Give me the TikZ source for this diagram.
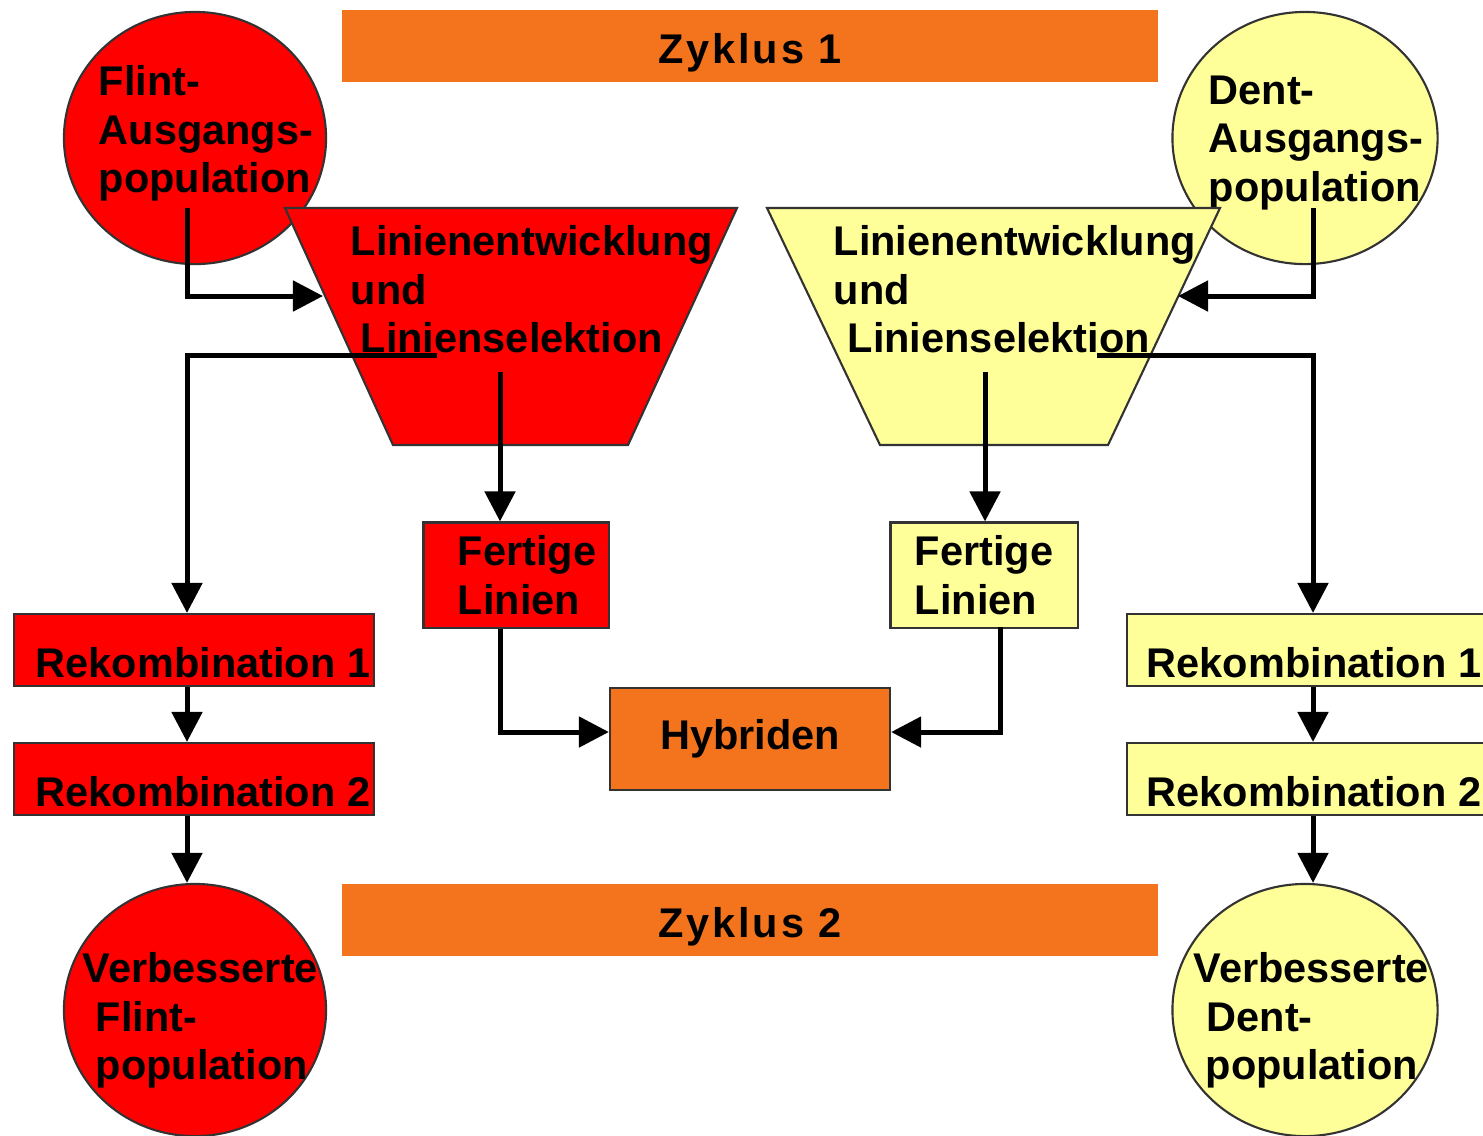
\documentclass[tikz,border=0pt]{standalone}
\usepackage{fontspec}
\setmainfont{Liberation Sans}
\usetikzlibrary{shapes.geometric,arrows.meta,positioning}
\definecolor{FlintRed}{RGB}{255,0,0}
\definecolor{DentYellow}{RGB}{255,255,153}
\definecolor{CycOrange}{RGB}{243,116,28}

\begin{document}
\begin{tikzpicture}[x=0.01cm,y=-0.01cm,
  font=\fontsize{11.8pt}{13.8pt}\selectfont\bfseries,
  pop/.style={ellipse,draw=black!80,line width=0.6pt,minimum width=2.62cm,minimum height=2.52cm,inner sep=0pt},
  ptxt/.style={align=left,inner sep=0pt,anchor=north west},
  funnel/.style={draw=black!80,line width=0.6pt},
  rekbox/.style={draw=black!80,line width=0.6pt,minimum width=3.6cm,minimum height=0.72cm,inner sep=0pt,
                 text height=0.63cm,text depth=0.09cm},
  fbox/.style={draw=black!80,line width=0.6pt,minimum width=1.85cm,minimum height=1.05cm,align=left,inner sep=0pt},
  cycbar/.style={fill=CycOrange,minimum width=8.15cm,minimum height=0.72cm,inner sep=0pt,
                 text height=0.36cm,text depth=0.02cm,
                 font=\fontsize{11.8pt}{13.8pt}\selectfont\bfseries\addfontfeatures{LetterSpace=7}},
  flow/.style={-{Triangle[length=0.3cm,width=0.3cm]},line width=0.05cm},
]
\useasboundingbox[fill=white] (0,0) rectangle (1483,1135);

% Zyklen
\node[cycbar] (cyc1) at (750,46) {Zyklus 1};
\node[cycbar] (cyc2) at (750,920) {Zyklus 2};

% Ausgangs- und Endpopulationen
\node[pop,fill=FlintRed] (flint) at (195,138) {};
\node[pop,fill=DentYellow,minimum width=2.65cm] (dent) at (1305,138) {};
\node[pop,fill=FlintRed] (verbF) at (195,1010) {};
\node[pop,fill=DentYellow,minimum width=2.65cm] (verbD) at (1305,1010) {};
\node[ptxt] (flintT) at (98,65) {Flint-\\Ausgangs-\\population};
\node[ptxt] (dentT) at (1208,75) {Dent-\\Ausgangs-\\population};
\node[ptxt] (verbFT) at (82,952) {Verbesserte\\\hspace*{0.13cm}Flint-\\\hspace*{0.13cm}population};
\node[ptxt] (verbDT) at (1193,952) {Verbesserte\\\hspace*{0.13cm}Dent-\\\hspace*{0.12cm}population};

% Linienentwicklung
\draw[funnel,fill=FlintRed] (285,208) -- (737,208) -- (628,445) -- (393,445) -- cycle;
\draw[funnel,fill=DentYellow] (767,208) -- (1220,208) -- (1108,445) -- (880,445) -- cycle;
\node[ptxt] (selF) at (350,225) {Linienentwicklung\\und\\\hspace*{0.1cm}Linienselektion};
\node[ptxt] (selD) at (833,225) {Linienentwicklung\\und\\\hspace*{0.14cm}Linienselektion};

% Kaesten
\node[fbox,fill=FlintRed] (fertF) at (516,575) {\hspace*{0.22cm}Fertige\\\hspace*{0.22cm}Linien};
\node[fbox,fill=DentYellow,minimum width=1.87cm] (fertD) at (984,575) {Fertige\\Linien};
\node[draw=black!80,line width=0.6pt,fill=CycOrange,minimum width=2.8cm,minimum height=1.02cm] (hyb) at (750,739) {Hybriden};
\node[rekbox,fill=FlintRed] (rekF1) at (194,650) {\hspace*{0.18cm}Rekombination 1};
\node[rekbox,fill=FlintRed] (rekF2) at (194,779) {\hspace*{0.18cm}Rekombination 2};
\node[rekbox,fill=DentYellow] (rekD1) at (1307,650) {\hspace*{0.14cm}Rekombination 1};
\node[rekbox,fill=DentYellow] (rekD2) at (1307,779) {\hspace*{0.14cm}Rekombination 2};

% Anschlusspunkte
\coordinate (fOut) at (187,208);
\coordinate (fIn) at (323,296);
\coordinate (dOut) at (1313,208);
\coordinate (dIn) at (1178,296);
\coordinate (fSel) at (437,355);
\coordinate (dSel) at (1097,355);
\coordinate (fDown) at (500,372);
\coordinate (dDown) at (985,372);
\coordinate (dFert) at (1000,627);

\draw[flow] (fOut) |- (fIn);
\draw[flow] (dOut) |- (dIn);
\draw[flow] (fSel) -| (rekF1.north -| fOut);
\draw[flow] (dSel) -| (rekD1.north -| dOut);
\draw[flow] (fDown) -- (fertF.north -| fDown);
\draw[flow] (dDown) -- (fertD.north -| dDown);
\draw[flow] (rekF1.south -| fOut) -- (rekF2.north -| fOut);
\draw[flow] (rekF2.south -| fOut) -- (verbF.north -| fOut);
\draw[flow] (rekD1.south -| dOut) -- (rekD2.north -| dOut);
\draw[flow] (rekD2.south -| dOut) -- (verbD.north -| dOut);
\draw[flow] (fertF.south -| fDown) |- ([yshift=0.07cm]hyb.west);
\draw[flow] (dFert) |- ([yshift=0.07cm]hyb.east);
\end{tikzpicture}
\end{document}
